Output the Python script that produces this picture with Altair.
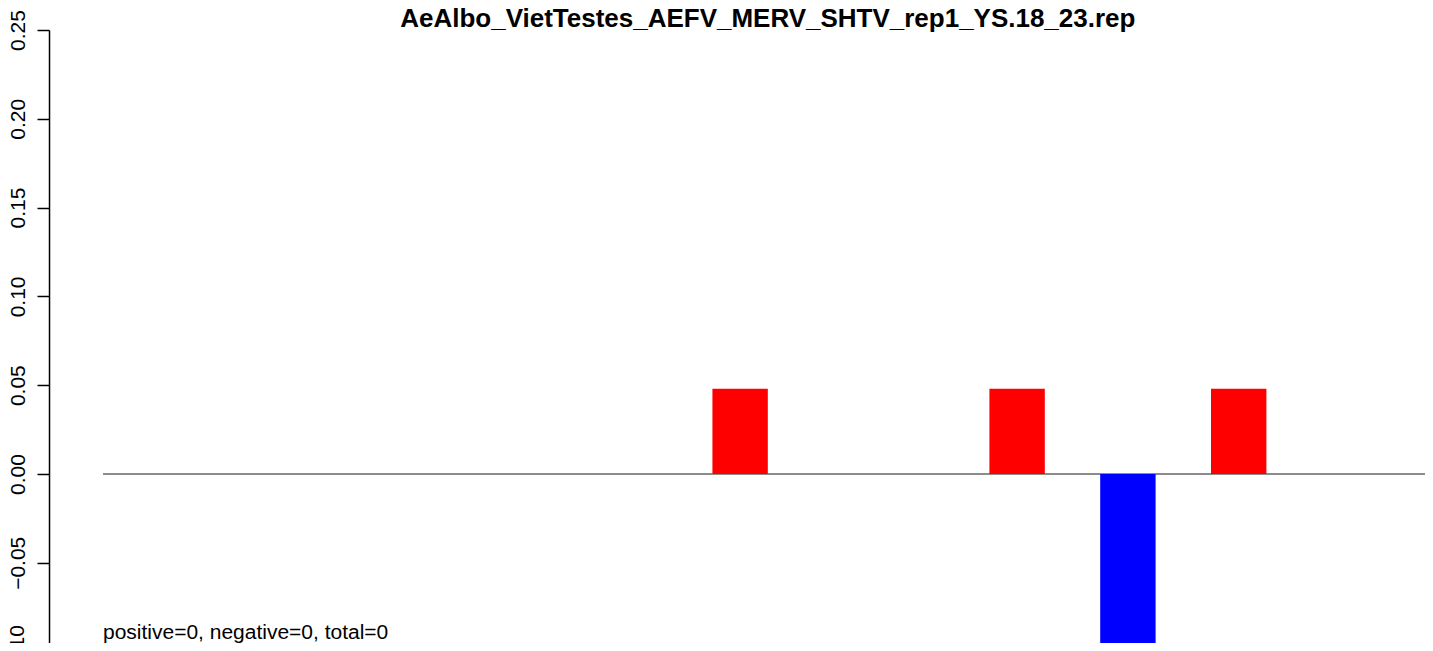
import altair as alt
import pandas as pd

# ---- data ----
positions = list(range(24))
values = [0, 0, 0, 0, 0, 0, 0, 0, 0, 0, 0, 0.048,
          0, 0, 0, 0, 0.048, 0, -0.096, 0, 0.048, 0, 0, 0]
y_ticks = [-0.05, 0.00, 0.05, 0.10, 0.15, 0.20, 0.25]
cut_tick = ["\u22120.10"]
title_text = ["AeAlbo_VietTestes_AEFV_MERV_SHTV_rep1_YS.18_23.rep"]
note_text = ["positive=0, negative=0, total=0"]

FONT = "Liberation Sans"

df = pd.DataFrame({"pos": positions, "value": values})
df["end"] = df["pos"] + 1
df["sign"] = ["neg" if v < 0 else "pos" for v in values]
df = df[df["value"] != 0]

UNIT = 55.4          # px per bar
PX_PER_Y = 1776.0    # px per 1.0 of y
PLOT_W = 1376
PLOT_H = 612.7
x_lo = -0.975
x_hi = x_lo + PLOT_W / UNIT
y_hi = 0.25
y_lo = y_hi - PLOT_H / PX_PER_Y

xscale = alt.Scale(domain=[x_lo, x_hi], nice=False, zero=False)
yscale = alt.Scale(domain=[y_lo, y_hi], nice=False, zero=False)

zero_line = alt.Chart(pd.DataFrame({"a": [0], "b": [len(positions)], "y": [0.0]})).mark_rule(
    color="#666666", strokeWidth=1.3
).encode(
    x=alt.X("a:Q", scale=xscale, axis=None),
    x2="b:Q",
    y=alt.Y("y:Q", scale=yscale),
)

bars = alt.Chart(df).mark_rect().encode(
    x=alt.X("pos:Q", scale=xscale, axis=None),
    x2="end:Q",
    y=alt.Y(
        "value:Q",
        scale=yscale,
        axis=alt.Axis(
            values=y_ticks,
            format=".2f",
            title=None,
            grid=False,
            domainColor="black",
            domainWidth=1.5,
            tickColor="black",
            tickWidth=1.5,
            tickSize=12,
            labelFont=FONT,
            labelFontSize=21,
            labelColor="black",
            labelAngle=270,
            labelAlign="center",
            labelBaseline="alphabetic",
            labelPadding=13,
            labelOverlap=False,
            labelFlush=False,
        ),
    ),
    y2=alt.datum(0),
    color=alt.Color(
        "sign:N",
        scale=alt.Scale(domain=["pos", "neg"], range=["#ff0000", "#0000ff"]),
        legend=None,
    ),
)

# the -0.10 tick label of the reference, which is cut by the window's bottom edge
cut_label = alt.Chart(pd.DataFrame({"t": cut_tick})).mark_text(
    align="center", baseline="alphabetic", angle=270, font=FONT, fontSize=21, color="black"
).encode(
    x=alt.value(-25),
    y=alt.value((y_hi + 0.10) * PX_PER_Y),
    text="t:N",
)

note = alt.Chart(pd.DataFrame({"t": note_text})).mark_text(
    align="left", baseline="alphabetic", font=FONT, fontSize=21, color="black"
).encode(
    x=alt.X("x0:Q", scale=xscale),
    y=alt.Y("y0:Q", scale=yscale),
    text="t:N",
).transform_calculate(x0="0", y0="-0.093")

title = alt.Chart(pd.DataFrame({"t": title_text})).mark_text(
    align="center", baseline="alphabetic", font=FONT, fontSize=26, fontWeight="bold", color="black"
).encode(
    x=alt.X("xc:Q", scale=xscale),
    y=alt.value(-3),
    text="t:N",
).transform_calculate(xc="12")

chart = alt.layer(zero_line, bars, cut_label, note, title).properties(
    width=PLOT_W,
    height=PLOT_H,
    padding={"left": 41, "top": 22, "right": 0, "bottom": 0},
    autosize=alt.AutoSizeParams(type="none"),
).configure_view(stroke=None)

chart.save("out.html", embed_options={"renderer": "svg", "actions": False})
